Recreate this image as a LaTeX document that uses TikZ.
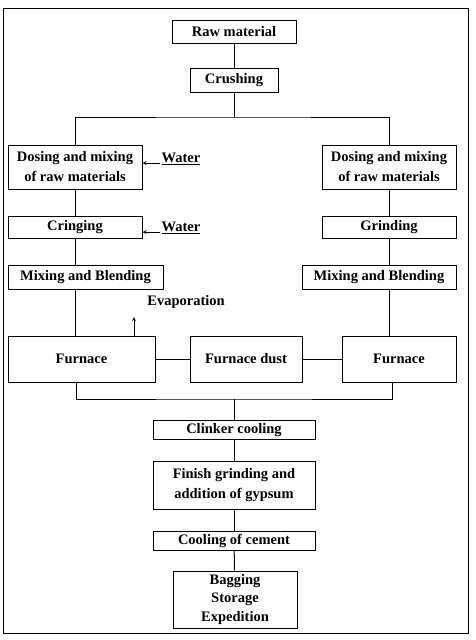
\documentclass[tikz,border=0pt]{standalone}
\usepackage{fontspec}
\setmainfont{Liberation Serif}
\usetikzlibrary{arrows,positioning,calc}

\begin{document}
\begin{tikzpicture}[x=1pt, y=-1pt,
    box/.style={draw, line width=1pt, inner sep=1pt, align=center, font=\bfseries\fontsize{14.5}{20}\selectfont},
    note/.style={inner sep=1pt, font=\bfseries\fontsize{14.5}{18}\selectfont},
    link/.style={line width=1pt},
    arrow/.style={->, line width=0.8pt, >=stealth}
]
    \useasboundingbox (0,0) rectangle (476,640);
    \draw[link] (3,8) rectangle (468,633);

    \node[box, minimum width=124, minimum height=23] (raw) at (234,32) {Raw material};
    \node[box, minimum width=88, minimum height=24] (crush) at (234,80) {Crushing};
    \node[box, minimum width=134, minimum height=44] (dosL) at (75,167) {Dosing and mixing\\of raw materials};
    \node[box, minimum width=134, minimum height=44] (dosR) at (389,167) {Dosing and mixing\\of raw materials};
    \node[box, minimum width=134, minimum height=22] (cring) at (75,227) {Cringing};
    \node[box, minimum width=134, minimum height=22] (grind) at (389,227) {Grinding};
    \node[box, minimum width=155, minimum height=24] (mixL) at (85.5,277) {Mixing and Blending};
    \node[box, minimum width=154, minimum height=24] (mixR) at (379,277) {Mixing and Blending};
    \node[box, minimum width=147, minimum height=46] (furL) at (81.5,359) {Furnace};
    \node[box, minimum width=112, minimum height=46] (dust) at (246,359) {Furnace dust};
    \node[box, minimum width=114, minimum height=46] (furR) at (399,359) {Furnace};
    \node[box, minimum width=162, minimum height=19] (clink) at (234,430) {Clinker cooling};
    \node[box, minimum width=162, minimum height=48] (finish) at (234,485) {Finish grinding and\\addition of gypsum};
    \node[box, minimum width=162, minimum height=19] (cool) at (234,540.5) {Cooling of cement};
    \node[box, minimum width=124, minimum height=57, font=\bfseries\fontsize{14.5}{18.5}\selectfont] (bag) at (235,599.5) {Bagging\\Storage\\Expedition};

    \node[note] (water1) at (181,159) {\underline{Water}};
    \node[note] (water2) at (181,228) {\underline{Water}};
    \node[note] (evap) at (186,302) {Evaporation};
    \coordinate (split) at (234,117);
    \coordinate (merge) at (234,399);
    \coordinate (steam) at (134,317);

    \draw[link] (raw) -- (crush);
    \draw[link] (crush) -- (split);
    \draw[link] (dosL.north) |- (split) -| (dosR.north);
    \draw[arrow] ([yshift=3]water1.south west) -- ([yshift=3]water1.south west -| dosL.east);
    \draw[arrow] ([yshift=3]water2.south west) -- ([yshift=3]water2.south west -| cring.east);
    \draw[link] (dosL) -- (cring);
    \draw[link] (dosR) -- (grind);
    \draw[link] (cring.south) -- (cring.south |- mixL.north);
    \draw[link] (grind.south) -- (grind.south |- mixR.north);
    \draw[link] (mixL.south -| cring) -- (furL.north -| cring);
    \draw[link] (mixR.south -| grind) -- (furR.north -| grind);
    \draw[arrow] (furL.north -| steam) -- (steam);
    \draw[link] (furL) -- (dust);
    \draw[link] (dust) -- (furR);
    \draw[link] ([xshift=-5]furL.south) |- (merge) -| ([xshift=-7]furR.south);
    \draw[link] (merge) -- (clink);
    \draw[link] (clink) -- (finish);
    \draw[link] (finish) -- (cool);
    \draw[link] (cool) -- (bag);
\end{tikzpicture}
\end{document}
